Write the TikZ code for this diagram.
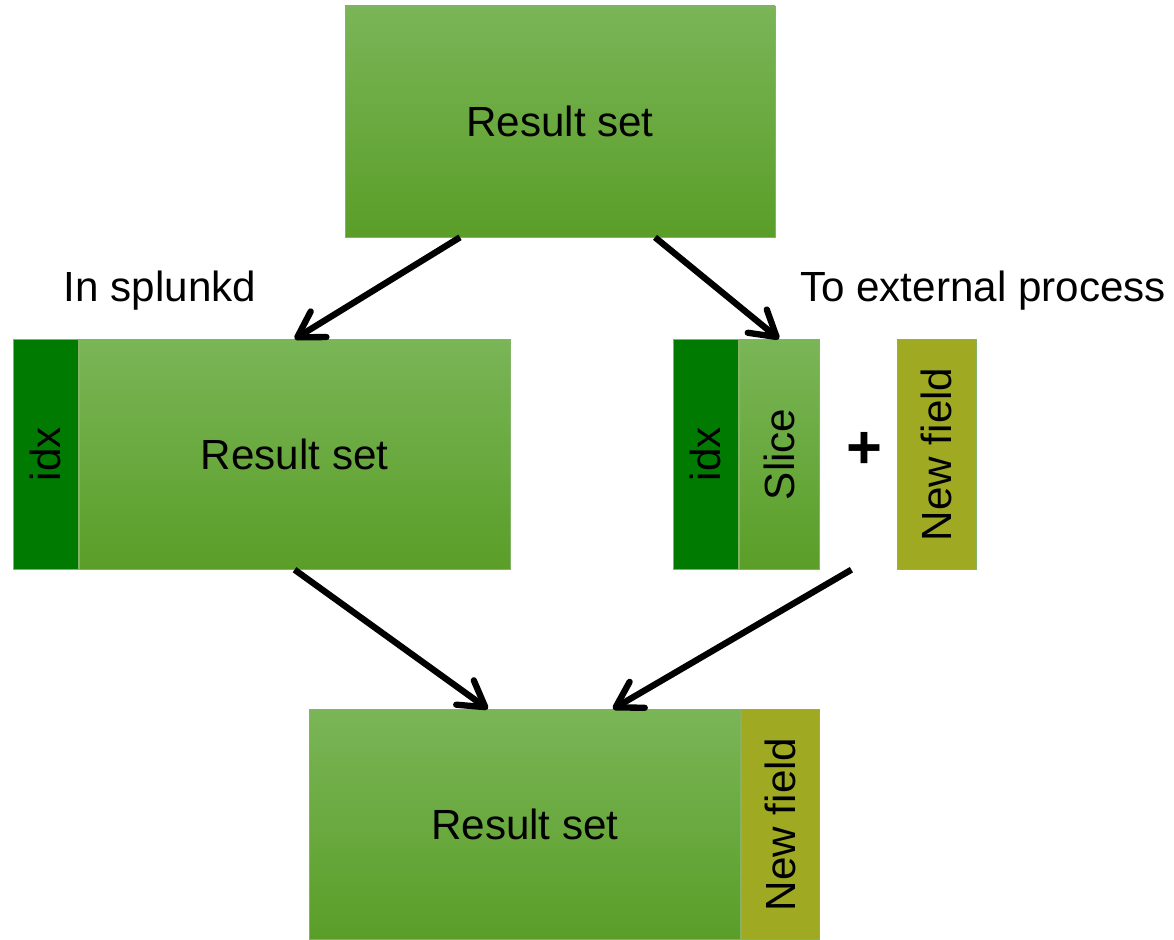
\documentclass[tikz,border=0pt]{standalone}
\usepackage{fontspec}
\setmainfont{Liberation Sans}
\usetikzlibrary{positioning,arrows.meta}

\definecolor{rstop}{RGB}{122,181,87}
\definecolor{rsbot}{RGB}{90,158,40}
\definecolor{rsline}{RGB}{130,179,102}
\definecolor{idxgreen}{RGB}{0,122,0}
\definecolor{fieldolive}{RGB}{159,170,34}

\tikzset{
  resbox/.style={rectangle,draw=rsline,top color=rstop,bottom color=rsbot,inner sep=0pt,minimum height=4.6cm},
  idxbox/.style={rectangle,draw=rsline,fill=idxgreen,inner sep=0pt,minimum width=1.3cm,minimum height=4.6cm},
  fieldbox/.style={rectangle,draw=rsline,fill=fieldolive,inner sep=0pt,minimum width=1.57cm,minimum height=4.6cm},
  flow/.style={line width=3.6pt,-{Straight Barb[length=0.5cm,width=0.6cm,round]}}
}

\begin{document}
\begin{tikzpicture}[x=0.2mm,y=-0.2mm,font=\fontsize{24}{28}\selectfont]
\useasboundingbox (0,0) rectangle (1174,940);

% oben
\node[resbox,minimum width=8.6cm,minimum height=4.62cm](top) at (560,121.5){Result set};

% links
\node[idxbox,anchor=north west](idxL) at (13,339){\rotatebox{90}{idx}};
\node[right=0pt of idxL,resbox,minimum width=8.62cm](resL){Result set};
\node(lblL) at (160,291){In splunkd};

% rechts
\node[idxbox,anchor=north west](idxR) at (673,339){\rotatebox{90}{idx}};
\node[right=0pt of idxR,resbox,minimum width=1.6cm](slice){\rotatebox{90}{Slice}};
\node(plus) at (864,450){\fontsize{35}{35}\selectfont\textbf{+}};
\node[fieldbox,anchor=north west](newR) at (897,339){\rotatebox{90}{New field}};
\node(lblR) at (983,291){To external process};

% unten
\node[resbox,anchor=north west,minimum width=8.62cm](resB) at (309,709){Result set};
\node[right=0pt of resB,fieldbox,minimum width=1.56cm](newB){\rotatebox{90}{New field}};

\draw[flow] ([xshift=-2cm]top.south) -- (resL.north);
\draw[flow] ([xshift=1.9cm]top.south) -- (slice.north);
\draw[flow] (resL.south) -- ([xshift=-0.74cm]resB.north);
\draw[flow] ([xshift=0.64cm]slice.south east) -- ([xshift=1.76cm]resB.north);

\end{tikzpicture}
\end{document}
